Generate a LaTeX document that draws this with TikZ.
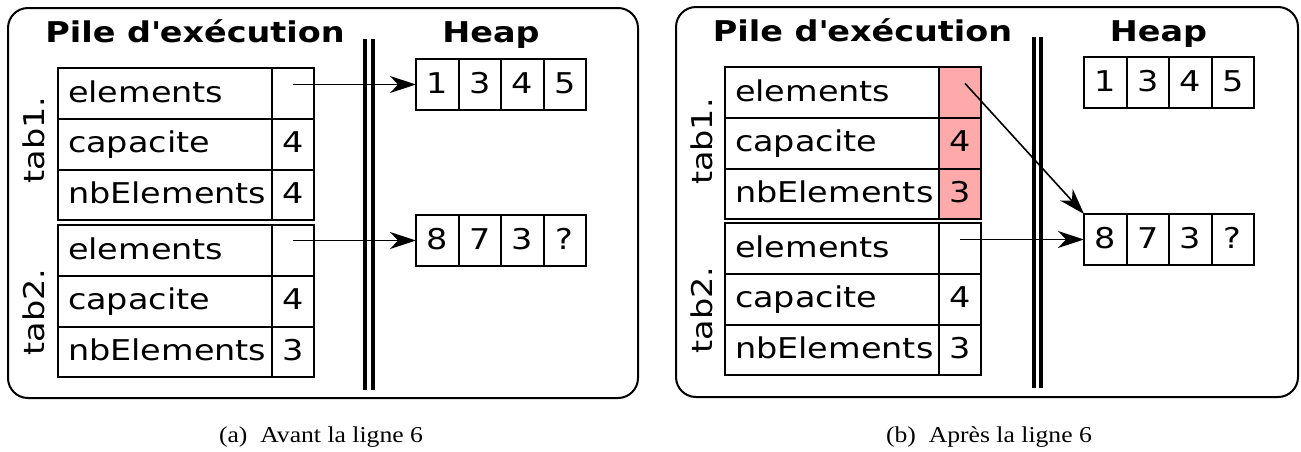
\documentclass[tikz,border=0pt]{standalone}
\usepackage{fontspec}
\newfontfamily\diafont[FakeStretch=1.17]{DejaVu Sans}
\newfontfamily\legfont[FakeStretch=1.13]{Liberation Serif}
\usetikzlibrary{arrows.meta,positioning}
\definecolor{rosemodif}{RGB}{255,170,170}
\tikzset{
	cadre/.style={draw, line width=1pt, rounded corners=10pt},
	separation/.style={double, double distance=1.75pt, line width=2pt},
	titre/.style={font=\diafont\bfseries\fontsize{14.3}{16}\selectfont, anchor=base},
	etiquette/.style={font=\diafont\fontsize{14.3}{16}\selectfont, rotate=90, anchor=base},
	nomcase/.style={draw, line width=1pt, outer sep=0pt, font=\diafont\fontsize{14.3}{16}\selectfont,
		text width=97pt, inner xsep=5pt, inner ysep=0pt, text height=17pt, text depth=8.4pt, align=left},
	valcase/.style={draw, line width=1pt, outer sep=0pt, font=\diafont\fontsize{14.3}{16}\selectfont,
		text width=21pt, inner xsep=0pt, inner ysep=0pt, text height=17pt, text depth=8.4pt, align=center},
	heapcase/.style={valcase, text width=21.25pt, text depth=8.5pt},
	fleche/.style={-{Stealth[length=13pt,width=8.5pt,inset=4pt]}, line width=0.8pt},
	legende/.style={font=\legfont\fontsize{11.35}{13}\selectfont, anchor=base}
}
% une structure : prefixe, coin haut gauche, trois valeurs
\def\tableau[#1]#2(#3)#4#5#6{
	\node[nomcase, anchor=north west] (#2n1) at (#3) {elements};
	\node[valcase, #1, right=0pt of #2n1] (#2v1) {#4};
	\node[nomcase, below=0pt of #2n1] (#2n2) {capacite};
	\node[valcase, #1, right=0pt of #2n2] (#2v2) {#5};
	\node[nomcase, below=0pt of #2n2] (#2n3) {nbElements};
	\node[valcase, #1, right=0pt of #2n3] (#2v3) {#6};
}
% un tableau dans le tas
\def\tas#1(#2)#3{
	\coordinate (#1) at (#2);
	\foreach \v [count=\i] in {#3}
		\node[heapcase, anchor=north west, xshift={(\i-1)*21.25pt}] (#1c\i) at (#1) {\v};
}

\begin{document}
\begin{tikzpicture}[x=0.5pt, y=-0.5pt]
	\useasboundingbox (0,0) rectangle (1301,451);

	% (a) avant
	\draw[cadre] (8,8) rectangle (638,398);
	\node[titre] (atitre) at (195,42) {Pile d\textquotesingle ex\'ecution};
	\node[titre] (aheap) at (491,42) {Heap};
	\draw[separation] (369,39) -- (369,390);

	\tableau[]{at1}(58,68){}{4}{4}
	\tableau[]{at2}(58,225){}{4}{3}
	\node[etiquette] (alab1) at (44,140) {tab1.};
	\node[etiquette] (alab2) at (44,312) {tab2.};

	\tas{ah1}(416,59){1,3,4,5}
	\tas{ah2}(416,215){8,7,3,?}

	\draw[fleche] (at1v1.center |- ah1c1.west) -- (ah1c1.west);
	\draw[fleche] (at2v1.center |- ah2c1.west) -- (ah2c1.west);

	\node[legende] (lega) at (321,442) {(a)~ Avant la ligne 6};

	% (b) apres
	\draw[cadre] (676,7) rectangle (1298,397);
	\node[titre] (btitre) at (862.5,41) {Pile d\textquotesingle ex\'ecution};
	\node[titre] (bheap) at (1158.5,41) {Heap};
	\draw[separation] (1037.5,37) -- (1037.5,388);

	\tableau[fill=rosemodif]{bt1}(725,67){}{4}{3}
	\tableau[]{bt2}(725,223){}{4}{3}
	\node[etiquette] (blab1) at (712,141.5) {tab1.};
	\node[etiquette] (blab2) at (712,310) {tab2.};

	\tas{bh1}(1084,57){1,3,4,5}
	\tas{bh2}(1084,214){8,7,3,?}

	\draw[fleche] ([xshift=2.5pt,yshift=4.5pt]bt1v1.center) -- (bh2c1.north west);
	\draw[fleche] (bt2v1.center |- bh2c1.west) -- (bh2c1.west);

	\node[legende] (legb) at (989,442) {(b)~ Apr\`es la ligne 6};
\end{tikzpicture}
\end{document}
